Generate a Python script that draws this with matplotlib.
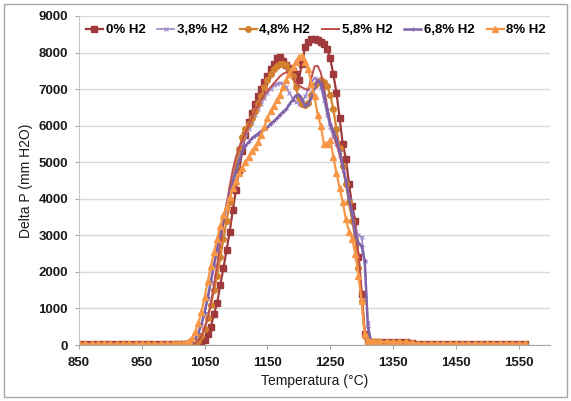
import matplotlib.pyplot as plt
from matplotlib.patches import Rectangle

plt.rcParams['font.family'] = ['Liberation Sans', 'DejaVu Sans']

# temperature grid (°C): coarse where flat, 5 °C steps through the peak
temp = list(range(850, 1001, 10)) + list(range(1005, 1331, 5)) + list(range(1340, 1561, 10))

pre = [20, 20, 20, 20, 20, 20, 20, 20, 20, 20, 20, 20, 20, 20, 20, 20]

# Delta P (mm H2O)
p_0 = pre + [
    20, 20, 20, 25, 25, 30, 35, 45, 70, 150,
    300, 500, 850, 1150, 1650, 2100, 2600, 3100, 3700, 4250,
    4800, 5300, 5750, 6100, 6350, 6600, 6800, 7000, 7200, 7350,
    7550, 7700, 7850, 7870, 7780, 7650, 7580, 7500, 7400, 7250,
    7700, 8150, 8300, 8370, 8380, 8350, 8300, 8230, 8100, 7850,
    7400, 6900, 6200, 5500, 5100, 4400, 3800, 3400, 2400, 1400,
    300, 100, 90, 90, 85, 85,
    80, 80, 75, 70, 50, 35, 30, 30, 30, 30, 30, 30, 30, 30, 30, 30, 30, 30, 30, 30, 30, 30, 30]

p_38 = pre + [
    20, 20, 20, 25, 30, 70, 150, 300, 550, 850,
    1250, 1700, 2150, 2600, 3050, 3450, 3850, 4250, 4600, 4950,
    5250, 5500, 5700, 5900, 6100, 6300, 6450, 6600, 6750, 6900,
    7000, 7100, 7150, 7180, 7150, 7050, 6900, 6750, 6650, 6600,
    6650, 6800, 7000, 7200, 7300, 7250, 7050, 6700, 6300, 5950,
    5700, 5500, 5200, 4800, 4400, 4000, 3600, 3200, 3000, 2950,
    2300, 600, 100, 90, 90, 85,
    80, 80, 75, 70, 50, 35, 30, 30, 30, 30, 30, 30, 30, 30, 30, 30, 30, 30, 30, 30, 30, 30, 30]

p_48 = pre + [
    20, 20, 20, 25, 30, 30, 60, 120, 250, 450,
    750, 1100, 1500, 1900, 2400, 2900, 3400, 3900, 4400, 4900,
    5350, 5700, 5900, 6050, 6200, 6400, 6600, 6800, 7050, 7250,
    7420, 7550, 7630, 7680, 7700, 7650, 7500, 7350, 7050, 6750,
    6580, 6560, 6620, 6850, 7100, 7200, 7250, 7200, 7080, 6850,
    6450, 5900, 5400, 4900, 4400, 3900, 3400, 2900, 2100, 1200,
    250, 100, 90, 90, 85, 85,
    80, 80, 75, 70, 50, 35, 30, 30, 30, 30, 30, 30, 30, 30, 30, 30, 30, 30, 30, 30, 30, 30, 30]

p_58 = pre + [
    20, 20, 20, 25, 30, 40, 50, 120, 250, 450,
    750, 1150, 1650, 2200, 2750, 3300, 3850, 4350, 4800, 5150,
    5400, 5600, 5800, 6000, 6200, 6400, 6550, 6700, 6850, 6950,
    7050, 7150, 7250, 7350, 7420, 7460, 7450, 7350, 7200, 7100,
    7050, 7000, 6980, 7300, 7620, 7640, 7450, 7050, 6550, 6100,
    5800, 5500, 5200, 4900, 4500, 4000, 3600, 3200, 2500, 1500,
    400, 100, 90, 90, 85, 85,
    80, 80, 75, 70, 50, 35, 30, 30, 30, 30, 30, 30, 30, 30, 30, 30, 30, 30, 30, 30, 30, 30, 30]

p_68 = pre + [
    20, 20, 20, 25, 30, 80, 170, 330, 580, 900,
    1300, 1750, 2200, 2650, 3050, 3450, 3800, 4150, 4450, 4750,
    5050, 5300, 5450, 5550, 5650, 5720, 5780, 5850, 5900, 5950,
    6050, 6120, 6200, 6300, 6380, 6450, 6580, 6700, 6820, 6850,
    6700, 6550, 6600, 6750, 7050, 7250, 7150, 6850, 6450, 6050,
    5850, 5650, 5300, 4900, 4500, 4000, 3600, 3000, 2800, 2700,
    2300, 500, 100, 90, 90, 85,
    80, 80, 75, 70, 50, 35, 30, 30, 30, 30, 30, 30, 30, 30, 30, 30, 30, 30, 30, 30, 30, 30, 30]

p_8 = pre + [
    20, 20, 30, 60, 120, 200, 350, 600, 900, 1300,
    1750, 2150, 2550, 2900, 3250, 3550, 3800, 4050, 4300, 4500,
    4700, 4850, 5000, 5150, 5300, 5420, 5550, 5750, 5950, 6200,
    6400, 6550, 6700, 6850, 7050, 7250, 7400, 7600, 7750, 7880,
    7900, 7750, 7550, 7150, 6800, 6300, 6000, 5500, 5500, 5620,
    5150, 4700, 4300, 3900, 3450, 3100, 2900, 2500, 1900, 1200,
    300, 100, 100, 95, 90, 90,
    85, 85, 80, 75, 50, 35, 30, 30, 30, 30, 30, 30, 30, 30, 30, 30, 30, 30, 30, 30, 30, 30, 30]

labels = ['0% H2', '3,8% H2', '4,8% H2', '5,8% H2', '6,8% H2', '8% H2']

fig = plt.figure(figsize=(5.71, 4.01), dpi=100)
ax = fig.add_axes([79/571, 1 - 345/401, 471/571, 329/401])

# outer chart frame
fig.patches.append(Rectangle((4/571, 4/401), 563/571, 393/401, transform=fig.transFigure,
                             fill=False, edgecolor='#A6A6A6', lw=1))

ax.plot(temp, p_0, color='#A0393B', lw=1.6, marker='s', ms=4, label=labels[0])
ax.plot(temp, p_38, color='#9C88C6', lw=1.2, marker='x', ms=3.5, mew=0.8, label=labels[1])
ax.plot(temp, p_48, color='#D3812F', lw=1.6, marker='o', ms=4, label=labels[2])
ax.plot(temp, p_58, color='#C0504D', lw=1.4, label=labels[3])
ax.plot(temp, p_68, color='#7D62AA', lw=1.8, marker='+', ms=3.5, mew=0.8, label=labels[4])
ax.plot(temp, p_8, color='#F79646', lw=1.6, marker='^', ms=4, label=labels[5])

ax.set_xlim(850, 1600)
ax.set_ylim(0, 9000)
ax.set_xticks(range(850, 1551, 100))
ax.set_yticks(range(0, 9001, 1000))
ax.yaxis.grid(True, color='#D9D9D9', lw=1)
ax.set_axisbelow(True)

for s in ['top', 'right']:
    ax.spines[s].set_visible(False)
ax.spines['left'].set_color('#C8C8C8')
ax.spines['bottom'].set_color('#A6A6A6')
ax.tick_params(length=3, color='#A6A6A6', labelsize=9.5, labelcolor='#1A1A1A')
ax.tick_params(axis='x', pad=6)
ax.tick_params(axis='y', pad=5)
for lbl in ax.get_xticklabels() + ax.get_yticklabels():
    lbl.set_fontweight('bold')

ax.set_xlabel('Temperatura (°C)', fontsize=10, color='#1A1A1A', labelpad=3)
ax.set_ylabel('Delta P (mm H2O)', fontsize=10, color='#1A1A1A', labelpad=4)

leg = ax.legend(loc='center', bbox_to_anchor=(0.503, 0.957), ncol=6, frameon=False,
                handlelength=1.3, handletextpad=0.2, columnspacing=0.9,
                prop={'weight': 'bold', 'size': 9.5})

fig.savefig('out.png', dpi=100)
